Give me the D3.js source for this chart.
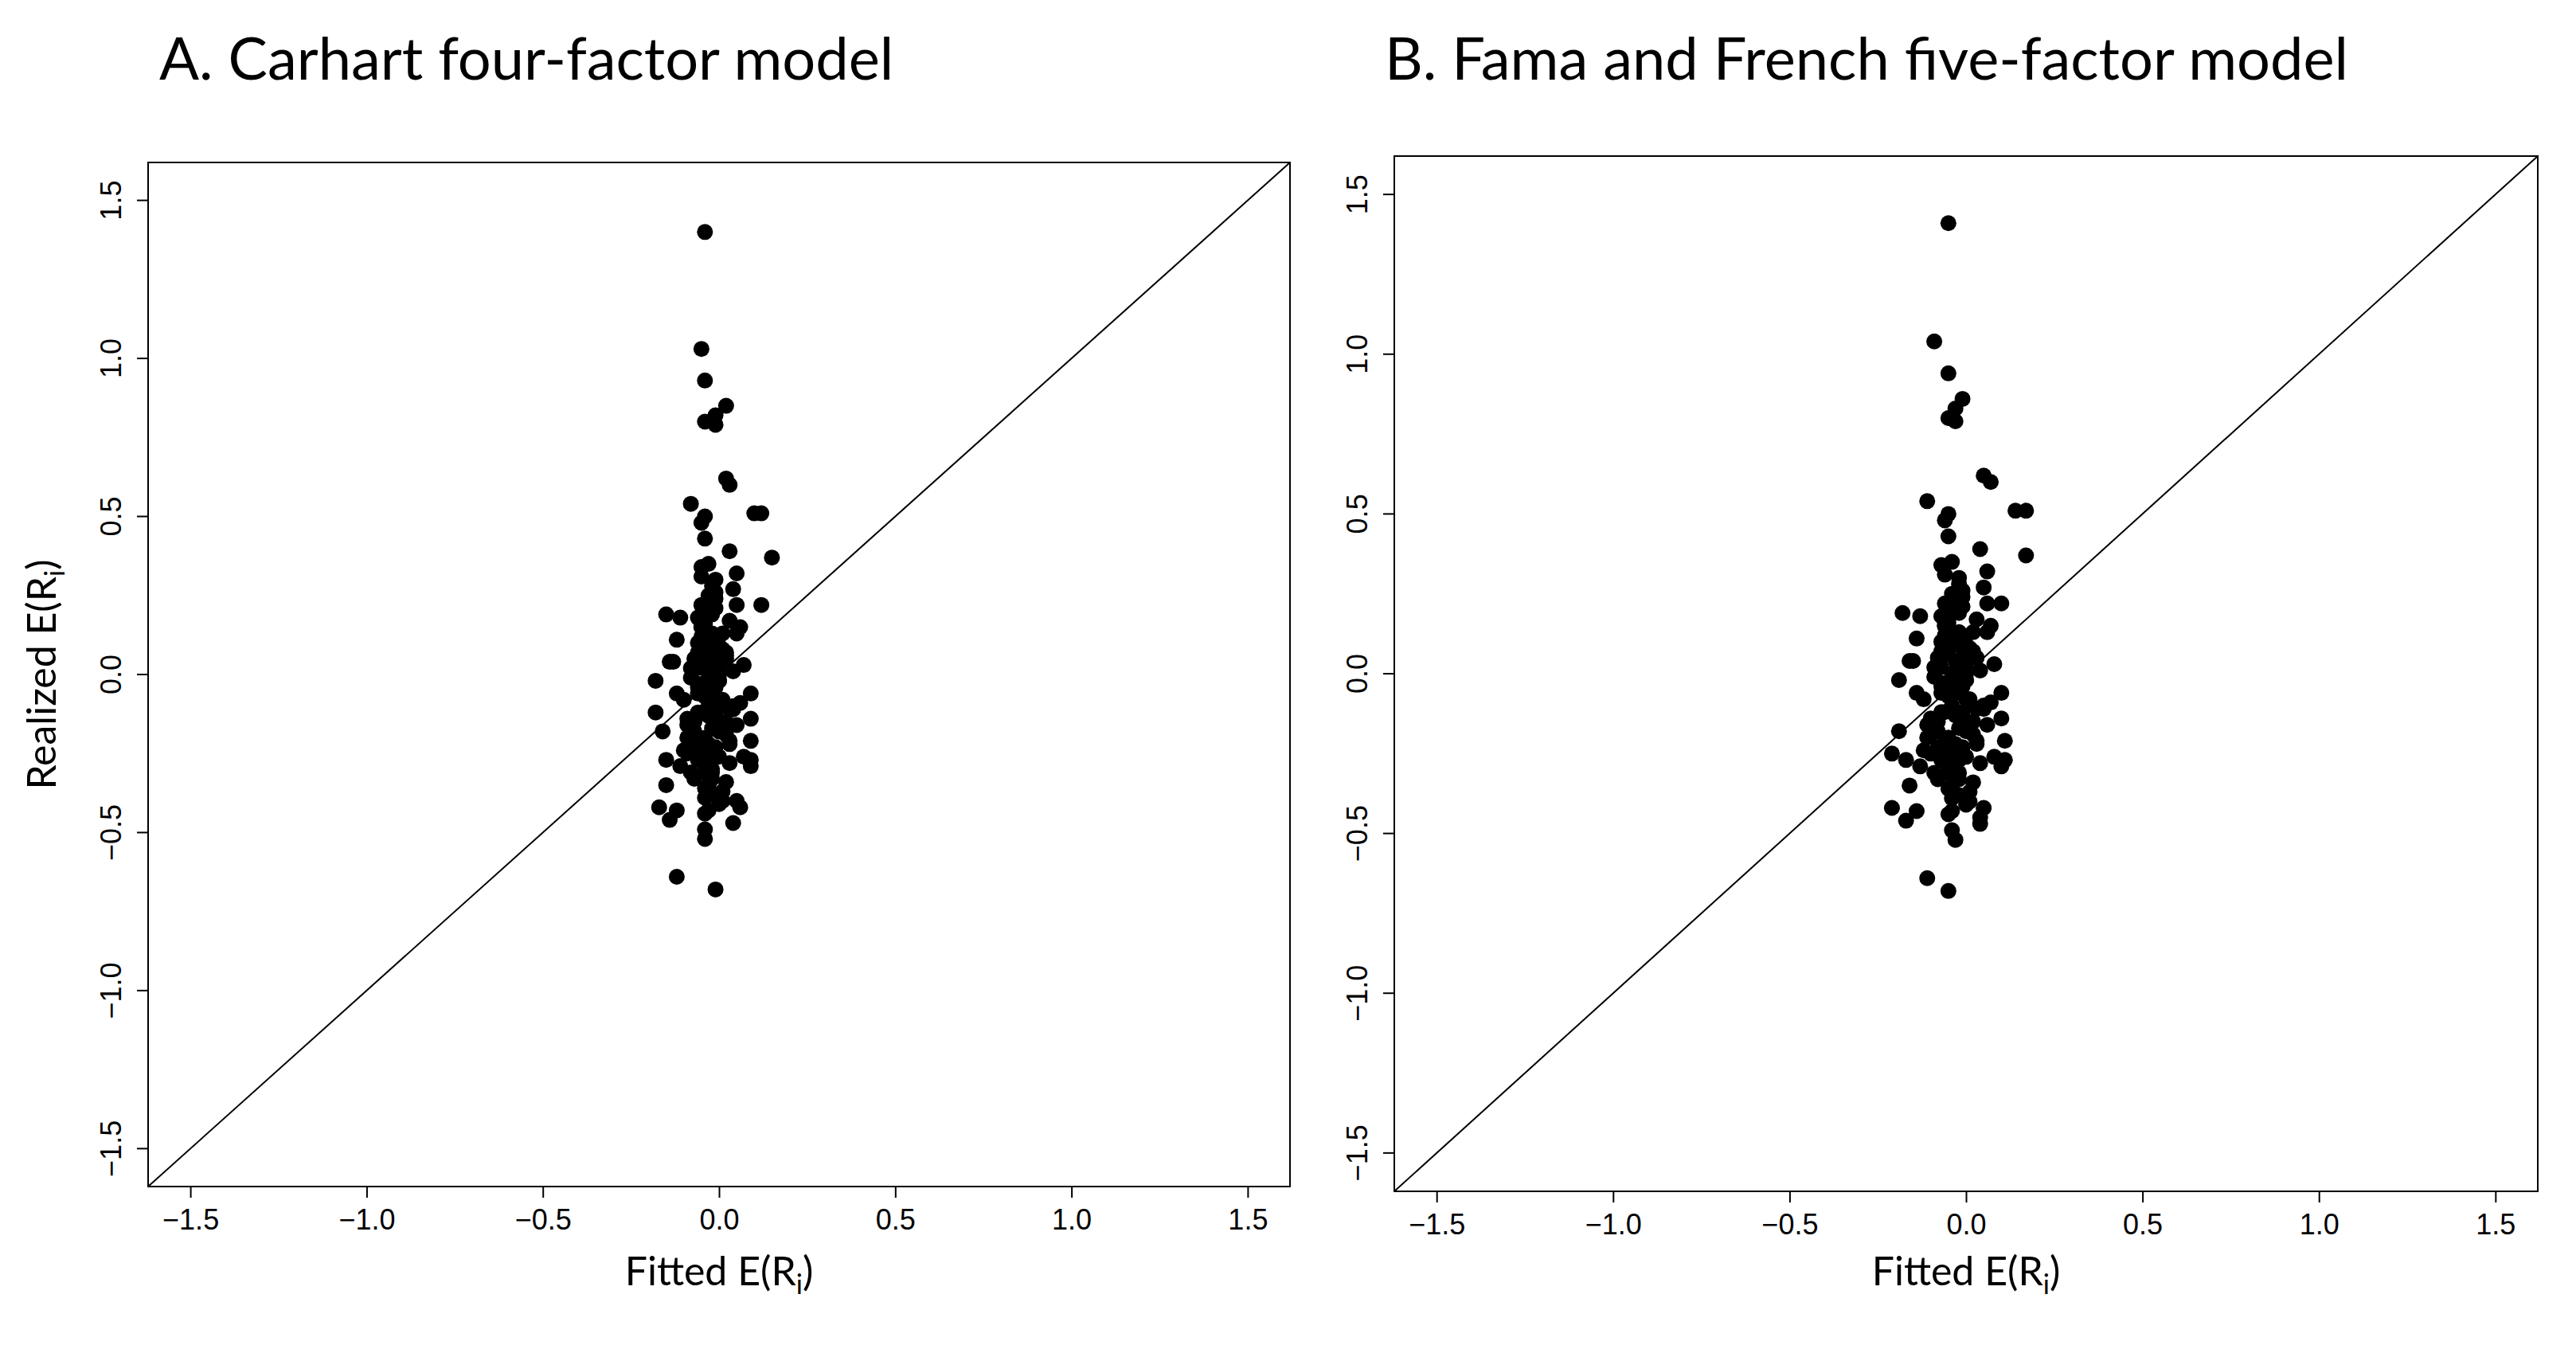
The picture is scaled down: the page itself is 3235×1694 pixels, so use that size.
<!DOCTYPE html>
<html><head><meta charset="utf-8">
<script src="https://cdn.jsdelivr.net/npm/d3@7"></script>
<style>body{margin:0;background:#fff}</style>
</head><body>
<div id="chart"></div>
<script>
// tick values shared by both panels
const ticks = [-1.5, -1.0, -0.5, 0.0, 0.5, 1.0, 1.5]
const panelTitles = ['A. Carhart four-factor model', 'B. Fama and French five-factor model']

// Panel A: fitted (x) and realized (y) expected returns
const fittedA = [-0.04,-0.05,-0.04,0.02,-0.01,-0.04,-0.01,0.02,0.03,-0.08,-0.04,-0.05,-0.04,0.10,0.12,0.03,0.15,-0.05,-0.03,-0.05,0.05,0.12,-0.15,-0.18,-0.18,-0.17,-0.14,-0.12,-0.12,-0.01,-0.04,-0.04,0.06,0.05,0.09,0.09,0.09,0.09,0.09,0.07,0.06,0.05,-0.16,-0.15,-0.15,-0.14,-0.12,-0.11,
 -0.03,-0.02,-0.04,-0.01,0.00,-0.06,-0.03,-0.02,0.01,-0.05,0.02,-0.08,-0.03,0.00,-0.04,-0.07,0.03,-0.02,-0.01,-0.06,0.04,-0.09,-0.03,0.01,-0.05,0.00,-0.02,-0.10,0.02,-0.04,-0.06,0.03,-0.01,-0.03,-0.08,0.05,-0.02,0.00,-0.05,-0.07,0.01,-0.03,-0.11,0.04,-0.02,-0.04,0.02,-0.06,0.00,-0.09,-0.01,-0.03,0.06,-0.05,-0.02,0.01,-0.07,-0.04,0.03,-0.13,-0.01,-0.03,0.00,-0.06,0.04,-0.02,-0.08,-0.04,0.02,-0.10,-0.03,0.05,-0.01,-0.05,-0.02,0.07,-0.07,-0.03,0.00,-0.04,-0.12,0.03,-0.06,-0.02,0.01,-0.09,-0.04,-0.01,0.04,-0.05,-0.03,-0.02,0.00,-0.07,
 -0.04,-0.02,-0.01,-0.05,-0.03,0.00,-0.06,-0.02,-0.04,0.01,-0.03,-0.05,-0.01,-0.07,-0.02,0.02,-0.04,-0.03,-0.06,0.00,-0.08,-0.01,0.03,-0.05,-0.02,-0.04,0.01,-0.03,-0.06,-0.09,0.04,-0.02,0.02,-0.07,-0.01,-0.03,0.00,-0.05]
const realizedA = [1.40,1.03,0.93,0.85,0.82,0.80,0.79,0.62,0.60,0.54,0.50,0.48,0.43,0.51,0.51,0.39,0.37,0.34,0.35,0.31,0.32,0.22,0.19,-0.02,-0.12,-0.42,-0.46,-0.43,-0.64,-0.68,-0.52,-0.49,-0.42,-0.40,-0.27,-0.29,-0.21,-0.14,-0.06,0.03,0.15,0.22,-0.18,-0.27,-0.35,0.04,0.11,0.18,
 0.25,0.20,0.14,0.10,0.06,0.02,-0.01,-0.05,-0.08,-0.12,-0.15,-0.19,-0.22,-0.26,-0.30,-0.33,0.17,0.28,0.08,-0.03,-0.10,-0.20,-0.36,-0.40,0.12,0.00,-0.17,-0.24,0.05,0.09,-0.06,-0.28,0.21,-0.13,-0.31,-0.16,-0.38,0.03,0.15,-0.23,0.13,-0.07,-0.29,-0.11,0.19,-0.44,-0.34,0.07,-0.02,-0.14,0.24,0.01,-0.09,-0.25,0.11,-0.37,-0.18,0.16,-0.21,0.04,-0.04,-0.32,0.09,-0.12,0.27,-0.27,-0.01,0.06,-0.19,-0.08,-0.35,0.13,-0.15,-0.03,0.20,-0.26,0.02,-0.10,-0.41,0.10,-0.06,-0.22,0.18,-0.30,0.08,-0.16,-0.05,0.30,-0.47,0.22,-0.13,-0.24,-0.02,0.05,
 -0.20,0.00,-0.12,0.16,-0.28,0.09,-0.04,0.21,-0.36,-0.09,0.04,-0.21,0.12,-0.15,-0.33,0.07,-0.07,0.24,-0.27,-0.18,0.02,-0.23,-0.11,0.18,0.13,-0.39,-0.17,-0.05,0.10,-0.25,0.01,-0.31,0.06,-0.14,0.26,-0.43,-0.08,0.15]

// Panel B
const fittedB = [-0.05,-0.09,-0.05,-0.01,-0.03,-0.05,-0.03,0.05,0.07,-0.11,-0.05,-0.06,-0.05,0.14,0.17,0.04,0.17,-0.07,-0.04,-0.06,0.06,0.10,-0.18,-0.19,-0.21,-0.21,-0.17,-0.14,-0.11,-0.05,-0.03,-0.04,0.05,0.04,0.11,0.10,0.11,0.10,0.10,0.08,0.07,0.06,-0.19,-0.17,-0.16,-0.16,-0.14,-0.13,
 -0.04,-0.02,-0.05,-0.01,0.00,-0.07,-0.04,-0.02,0.01,-0.06,0.02,-0.10,-0.03,0.00,-0.05,-0.08,0.03,-0.02,-0.01,-0.07,0.05,-0.11,-0.04,0.01,-0.06,0.00,-0.02,-0.12,0.03,-0.05,-0.07,0.04,-0.01,-0.03,-0.09,0.06,-0.02,0.00,-0.06,-0.08,0.02,-0.04,-0.13,0.05,-0.02,-0.05,0.02,-0.07,0.00,-0.10,-0.01,-0.03,0.07,-0.06,-0.03,0.01,-0.08,-0.05,0.03,-0.15,-0.01,-0.04,0.00,-0.07,0.05,-0.02,-0.09,-0.05,0.02,-0.12,-0.04,0.06,-0.01,-0.06,-0.03,0.08,-0.08,-0.04,0.00,-0.05,-0.14,0.03,-0.07,-0.03,0.01,-0.11,-0.05,-0.02,0.04,-0.06,-0.03,-0.02,0.00,-0.08,
 -0.05,-0.03,-0.01,-0.06,-0.04,0.00,-0.07,-0.02,-0.05,0.01,-0.03,-0.06,-0.01,-0.08,-0.02,0.02,-0.05,-0.03,-0.07,0.00,-0.09,-0.01,0.03,-0.06,-0.02,-0.04,0.01,-0.03,-0.07,-0.10,0.04,-0.02,0.02,-0.08,-0.01,-0.04,0.00,-0.06]
const realizedB = [1.41,1.04,0.94,0.86,0.83,0.80,0.79,0.62,0.60,0.54,0.50,0.48,0.43,0.51,0.51,0.39,0.37,0.34,0.35,0.31,0.32,0.22,0.19,-0.18,-0.42,-0.25,-0.46,-0.43,-0.64,-0.68,-0.52,-0.49,-0.42,-0.45,-0.27,-0.29,-0.21,-0.14,-0.06,0.03,0.15,0.22,-0.02,-0.27,-0.35,0.04,0.11,0.18,
 0.25,0.20,0.14,0.10,0.06,0.02,-0.01,-0.05,-0.08,-0.12,-0.15,-0.19,-0.22,-0.26,-0.30,-0.33,0.17,0.28,0.08,-0.03,-0.10,-0.20,-0.36,-0.40,0.12,0.00,-0.17,-0.24,0.05,0.09,-0.06,-0.28,0.21,-0.13,-0.31,-0.16,-0.38,0.03,0.15,-0.23,0.13,-0.07,-0.29,-0.11,0.19,-0.44,-0.34,0.07,-0.02,-0.14,0.24,0.01,-0.09,-0.25,0.11,-0.37,-0.18,0.16,-0.21,0.04,-0.04,-0.32,0.09,-0.12,0.27,-0.27,-0.01,0.06,-0.19,-0.08,-0.35,0.13,-0.15,-0.03,0.20,-0.26,0.02,-0.10,-0.41,0.10,-0.06,-0.22,0.18,-0.30,0.08,-0.16,-0.05,0.30,-0.47,0.22,-0.13,-0.24,-0.02,0.05,
 -0.20,0.00,-0.12,0.16,-0.28,0.09,-0.04,0.21,-0.36,-0.09,0.04,-0.21,0.12,-0.15,-0.33,0.07,-0.07,0.24,-0.27,-0.18,0.02,-0.23,-0.11,0.18,0.13,-0.39,-0.17,-0.05,0.10,-0.25,0.01,-0.31,0.06,-0.14,0.26,-0.43,-0.08,0.15]

const W = 3235, H = 1694
const svg = d3.select('#chart').append('svg').attr('width', W).attr('height', H)

const panels = [
  { x0: 186, x1: 1620, y0: 204, y1: 1490, fx: fittedA, ry: realizedA, title: panelTitles[0], tx: 200 },
  { x0: 1751, x1: 3187, y0: 196, y1: 1496, fx: fittedB, ry: realizedB, title: panelTitles[1], tx: 1739 }
]
const dom = [-1.62, 1.62]
const fmt = d3.format('.1f')
const tickFont = '"Liberation Sans", Arial, sans-serif'
const labFont = 'Lato, "Open Sans", sans-serif'

panels.forEach((p, i) => {
  const x = d3.scaleLinear().domain(dom).range([p.x0, p.x1])
  const y = d3.scaleLinear().domain(dom).range([p.y1, p.y0])
  const g = svg.append('g')

  g.append('text').attr('x', p.tx).attr('y', 100).attr('font-family', labFont)
    .attr('font-size', 74).text(p.title)

  g.append('rect').attr('x', p.x0).attr('y', p.y0).attr('width', p.x1 - p.x0)
    .attr('height', p.y1 - p.y0).attr('fill', 'none').attr('stroke', '#000').attr('stroke-width', 2)

  // 45 degree line
  g.append('line').attr('x1', x(dom[0])).attr('y1', y(dom[0])).attr('x2', x(dom[1])).attr('y2', y(dom[1]))
    .attr('stroke', '#000').attr('stroke-width', 2)

  const xa = g.append('g').attr('transform', `translate(0,${p.y1})`)
    .call(d3.axisBottom(x).tickValues(ticks).tickSize(14).tickPadding(14).tickFormat(d => fmt(d).replace('-', '−')))
  xa.select('.domain').attr('d', `M${x(-1.5)},0H${x(1.5)}`).attr('stroke-width', 2)
  xa.selectAll('line').attr('stroke-width', 2)
  xa.selectAll('text').attr('font-size', 36).attr('font-family', tickFont).attr('fill', '#000')

  const ya = g.append('g').attr('transform', `translate(${p.x0},0)`)
    .call(d3.axisLeft(y).tickValues(ticks).tickSize(14).tickPadding(10).tickFormat(d => fmt(d).replace('-', '−')))
  ya.select('.domain').attr('d', `M0,${y(-1.5)}V${y(1.5)}`).attr('stroke-width', 2)
  ya.selectAll('line').attr('stroke-width', 2)
  ya.selectAll('.tick').attr('transform', null)
  ya.selectAll('.tick line').attr('y1', d => y(d)).attr('y2', d => y(d))
  ya.selectAll('text').attr('font-size', 36).attr('font-family', tickFont).attr('fill', '#000')
    .attr('x', -44).attr('y', d => y(d)).attr('dy', 0)
    .attr('transform', d => `rotate(-90,-44,${y(d)})`)
    .attr('text-anchor', 'middle').attr('dominant-baseline', 'middle')

  g.selectAll('circle').data(p.fx.map((v, k) => [v, p.ry[k]])).join('circle')
    .attr('cx', d => x(d[0])).attr('cy', d => y(d[1])).attr('r', 10).attr('fill', '#000')

  const lab = g.append('text').attr('x', (p.x0 + p.x1) / 2).attr('y', 1614).attr('text-anchor', 'middle')
    .attr('font-family', labFont).attr('font-size', 50).text('Fitted E(R')
  lab.append('tspan').attr('font-size', 34).attr('dy', 11).text('i')
  lab.append('tspan').attr('dy', -11).text(')')

  if (i === 0) {
    const yl = g.append('text').attr('transform', `translate(70,${(p.y0 + p.y1) / 2}) rotate(-90)`)
      .attr('text-anchor', 'middle').attr('font-family', labFont).attr('font-size', 50).text('Realized E(R')
    yl.append('tspan').attr('font-size', 34).attr('dy', 11).text('i')
    yl.append('tspan').attr('dy', -11).text(')')
  }
})
</script>
</body></html>
